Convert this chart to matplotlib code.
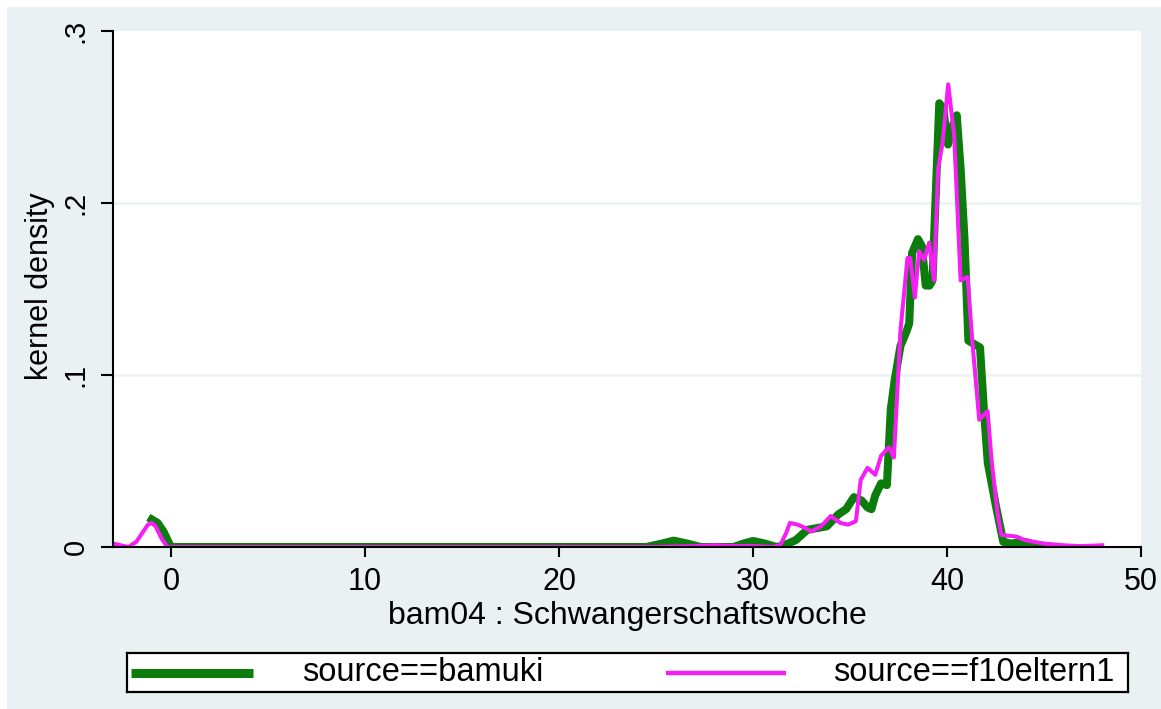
import numpy as np
import matplotlib
matplotlib.use('Agg')
import matplotlib.pyplot as plt
from matplotlib.patches import Rectangle
from matplotlib.lines import Line2D

# kernel density, source==bamuki
bamuki_x = [-1.0, -0.7, -0.4, -0.1, 0.0, 5, 10, 15, 20, 24.5, 25.3, 25.9, 26.6, 27.3,
            29.0, 29.5, 30.0, 30.6, 31.2, 31.6, 32.2, 32.8, 33.3, 33.8, 34.4, 34.8,
            35.2, 35.6, 35.9, 36.1, 36.3, 36.6, 36.9, 37.0, 37.1, 37.3, 37.6, 37.9,
            38.05, 38.2, 38.5, 38.7, 38.9, 39.1, 39.25, 39.4, 39.6, 39.8, 40.05, 40.3,
            40.5, 40.7, 40.9, 41.1, 41.4, 41.7, 41.9, 42.1, 42.5, 42.9, 43.3, 44.0,
            44.6, 45.2]
bamuki_y = [0.016, 0.014, 0.009, 0.002, 0.0, 0, 0, 0, 0, 0, 0.002, 0.0037, 0.002, 0,
            0, 0.002, 0.0035, 0.002, 0.0, 0.001, 0.004, 0.010, 0.011, 0.012, 0.019, 0.022,
            0.029, 0.027, 0.023, 0.022, 0.030, 0.037, 0.036, 0.058, 0.08, 0.097, 0.117, 0.125,
            0.13, 0.171, 0.179, 0.175, 0.152, 0.152, 0.155, 0.2, 0.258, 0.255, 0.234, 0.245,
            0.251, 0.22, 0.179, 0.12, 0.118, 0.116, 0.08, 0.049, 0.025, 0.003, 0.002, 0.003,
            0.001, 0.0]

# kernel density, source==f10eltern1
eltern_x = [-3.0, -2.6, -2.2, -1.8, -1.5, -1.2, -1.0, -0.8, -0.5, -0.2, 0, 5, 10, 15,
            20, 25, 27, 28, 29, 30, 31.0, 31.4, 31.7, 31.9, 32.3, 32.7, 33.0, 33.5,
            34.0, 34.5, 34.9, 35.3, 35.55, 35.9, 36.3, 36.6, 37.0, 37.26, 37.6, 37.96,
            38.1, 38.34, 38.56, 38.82, 39.08, 39.33, 39.54, 39.77, 40.06, 40.37, 40.7,
            41.06, 41.3, 41.66, 42.09, 42.3, 42.6, 42.8, 43.6, 44.0, 45.0, 46.0, 46.9, 48.0]
eltern_y = [0.002, 0.001, 0.0, 0.003, 0.008, 0.013, 0.014, 0.012, 0.005, 0.0, 0, 0, 0, 0,
            0, 0, 0.0005, 0.001, 0.0005, 0.0005, 0.0, 0.001, 0.008, 0.014, 0.013, 0.011,
            0.009, 0.012, 0.018, 0.014, 0.013, 0.015, 0.039, 0.046, 0.042, 0.053, 0.058,
            0.052, 0.126, 0.168, 0.168, 0.145, 0.172, 0.167, 0.177, 0.155, 0.22, 0.235,
            0.269, 0.239, 0.155, 0.157, 0.12, 0.074, 0.079, 0.05, 0.02, 0.007, 0.006,
            0.004, 0.002, 0.001, 0.0005, 0.001]

x_ticks = [0, 10, 20, 30, 40, 50]
y_ticks = [0, 0.1, 0.2, 0.3]
y_ticklabels = ['0', '.1', '.2', '.3']
labels = ['source==bamuki', 'source==f10eltern1']
colors = ['#0c7c0c', '#f51ef5']

plt.rcParams['font.family'] = ['Liberation Sans', 'DejaVu Sans']

W, H = 1161, 709
fig = plt.figure(figsize=(W / 100, H / 100), dpi=100, facecolor='white')
bg = '#eaf1f3'
fig.patches.append(Rectangle((7 / W, 0), 1 - 7 / W, 1 - 7 / H, transform=fig.transFigure,
                             facecolor=bg, edgecolor='none', zorder=-10))

# plot region in pixels
left, right, top, bottom = 113, 1141, 31, 547
ax = fig.add_axes([left / W, 1 - bottom / H, (right - left) / W, (bottom - top) / H])
ax.set_facecolor('white')

for yv in y_ticks[1:3]:
    ax.axhline(yv, color=bg, lw=1.8, zorder=1)

ax.plot(bamuki_x, bamuki_y, color=colors[0], lw=5.8, solid_joinstyle='round', zorder=3)
ax.plot(eltern_x, eltern_y, color=colors[1], lw=2.9, solid_joinstyle='round', zorder=4)

ax.set_xlim(-3, 50)
ax.set_ylim(0, 0.3)
ax.set_xticks(x_ticks)
ax.set_yticks(y_ticks)
ax.set_yticklabels(y_ticklabels)
for s in ['top', 'right']:
    ax.spines[s].set_visible(False)
for s in ['left', 'bottom']:
    ax.spines[s].set_linewidth(1.5)
    ax.spines[s].set_zorder(5)
ax.tick_params(axis='x', length=7.5, width=1.5, pad=7, labelsize=22)
ax.tick_params(axis='y', length=9, width=1.5, pad=8, labelsize=21, labelrotation=90)
for lab in ax.get_yticklabels():
    lab.set_va('center')

ax.set_xlabel('bam04 : Schwangerschaftswoche', fontsize=23, labelpad=3)
ax.set_ylabel('kernel density', fontsize=22)
ax.yaxis.set_label_coords(-0.056, 0.505)

# legend box
lx0, lx1, ly0, ly1 = 127, 1128, 653, 692
lax = fig.add_axes([lx0 / W, 1 - ly1 / H, (lx1 - lx0) / W, (ly1 - ly0) / H])
lax.set_xlim(lx0, lx1)
lax.set_ylim(ly1, ly0)
lax.set_xticks([])
lax.set_yticks([])
lax.set_facecolor('white')
for s in lax.spines.values():
    s.set_linewidth(1.6)
    s.set_color('black')
ym = (ly0 + ly1) / 2
lax.add_line(Line2D([131, 253], [ym, ym], color=colors[0], lw=6.5, solid_capstyle='butt'))
lax.add_line(Line2D([666, 786], [ym, ym], color=colors[1], lw=3.2, solid_capstyle='butt'))
lax.text(302, ym, labels[0], fontsize=23.5, va='center', ha='left')
lax.text(833, ym, labels[1], fontsize=23.5, va='center', ha='left')

fig.savefig('out.png', dpi=100, facecolor=fig.get_facecolor())
